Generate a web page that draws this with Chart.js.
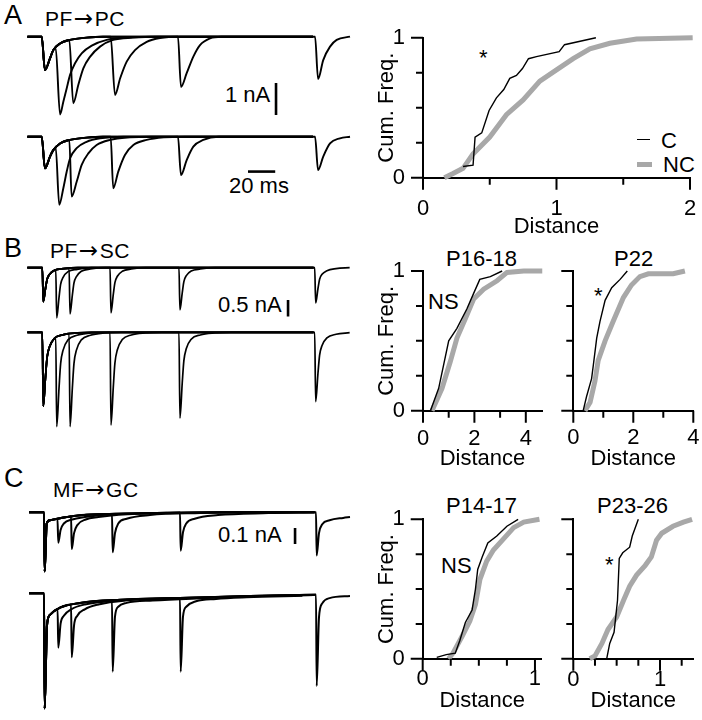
<!DOCTYPE html>
<html>
<head>
<meta charset="utf-8">
<script src="https://cdn.jsdelivr.net/npm/chart.js@4.4.1/dist/chart.umd.min.js"></script>
<style>
  body { margin: 0; background: #fff; }
  #fig { position: relative; width: 702px; height: 720px; overflow: hidden;
         font-family: 'Liberation Sans', Arial, Helvetica, sans-serif; color: #000; }
  #fig canvas { position: absolute; }
  .t { position: absolute; line-height: 1; white-space: nowrap; font-size: 22px; }
  .letter { font-size: 27px; }
  .path { font-size: 21px; letter-spacing: 0.5px; }
  .arr { font-family: 'DejaVu Sans', sans-serif; font-size: 23px; line-height: 0; margin: 0 1px; }
  .key { position: absolute; }
</style>
</head>
<body>
<div id="fig">
  <div class="t letter" style="left:4px; top:2px">A</div>
  <div class="t path" style="left:45px; top:8px">PF<span class="arr">→</span>PC</div>
  <div class="t" style="left:225px; top:84px">1 nA</div>
  <div class="t" style="left:229px; top:175px">20 ms</div>

  <div class="t letter" style="left:4px; top:235px">B</div>
  <div class="t path" style="left:50px; top:240px">PF<span class="arr">→</span>SC</div>
  <div class="t" style="left:218px; top:294px">0.5 nA</div>

  <div class="t letter" style="left:4px; top:465px">C</div>
  <div class="t path" style="left:53px; top:479px">MF<span class="arr">→</span>GC</div>
  <div class="t" style="left:218px; top:524px">0.1 nA</div>

  <div class="t" style="left:479px; top:47px">*</div>
  <div class="key" style="left:637px; top:139px; width:13px; height:1.4px; background:#000"></div>
  <div class="t" style="left:661px; top:130px">C</div>
  <div class="key" style="left:637px; top:162px; width:15px; height:5px; background:#a8a8a8"></div>
  <div class="t" style="left:663px; top:154px">NC</div>

  <div class="t" style="left:446px; top:248px">P16-18</div>
  <div class="t" style="left:614px; top:248px">P22</div>
  <div class="t" style="left:428px; top:291px">NS</div>
  <div class="t" style="left:594px; top:285px">*</div>

  <div class="t" style="left:446px; top:495px">P14-17</div>
  <div class="t" style="left:597px; top:495px">P23-26</div>
  <div class="t" style="left:441px; top:555px">NS</div>
  <div class="t" style="left:605px; top:554px">*</div>
</div>
<script>
// ---------- current traces: [time (ms after first stimulus), current (nA)] ----------
// each row: the shared first response, then one second response per stimulus interval
const intervals = [10, 20, 50, 100, 200];

const pcTopFirst = [[-10.5, 0], [0, 0], [2.4, -1.04], [6.1, -0.675], [8.5, -0.42], [13.5, -0.21], [20.8, -0.1], [33, -0.03], [45, 0]];
const pcTopSecond = [
  [[10.3, -0.36], [13.5, -2.43], [15.9, -2.03], [18.4, -1.61], [20.8, -1.2], [24.5, -0.83], [29.4, -0.52], [36.8, -0.28], [47.8, -0.1], [62.5, -0.03], [80, 0], [199.5, 0]],
  [[20.3, -0.1], [23.2, -2.08], [26.9, -1.51], [30.6, -0.99], [35.5, -0.63], [42.9, -0.31], [52.6, -0.1], [67, -0.03], [85, 0], [199.5, 0]],
  [[50.7, 0], [53.9, -1.82], [57.7, -1.3], [62.5, -0.78], [68.6, -0.42], [77.2, -0.16], [87, -0.04], [102, 0], [199.5, 0]],
  [[100.2, 0], [102.4, -1.57], [106.6, -1.14], [111.5, -0.62], [116.4, -0.26], [123.8, -0.05], [132, 0], [199.5, 0]],
  [[201, 0], [203.2, -1.32], [207, -0.73], [212, -0.31], [216.9, -0.1], [226.7, 0]]
];
const pcBotFirst = [[-10.5, 0], [0, 0], [2.4, -0.99], [6.1, -0.62], [8.5, -0.42], [13.5, -0.21], [20.8, -0.1], [33, -0.03], [45, 0]];
const pcBotSecond = [
  [[10.3, -0.34], [12.9, -2.13], [15.9, -1.61], [18.4, -1.09], [20.8, -0.68], [25.7, -0.36], [33, -0.16], [42.9, -0.05], [60, 0], [199.5, 0]],
  [[20.3, -0.1], [22, -1.87], [25.7, -1.41], [29.4, -0.88], [34.3, -0.52], [40.4, -0.26], [50.2, -0.1], [65, -0.02], [80, 0], [199.5, 0]],
  [[50.7, 0], [52.6, -1.61], [56.3, -1.09], [61.2, -0.57], [67.4, -0.26], [77.2, -0.1], [90, -0.02], [105, 0], [199.5, 0]],
  [[100.2, 0], [102.4, -1.2], [106.6, -0.73], [111.5, -0.31], [118.8, -0.1], [130, 0], [199.5, 0]],
  [[201, 0], [203.2, -1.04], [207, -0.62], [212, -0.21], [219.3, -0.05], [226.7, 0]]
];

const scTopFirst = [[-11, 0], [0, 0], [0.7, -1.03], [2.4, -0.61], [3.6, -0.34], [5.4, -0.2], [9, -0.08], [15.7, -0.03], [26, 0]];
const scTopSecond = [
  [[9.9, -0.06], [10.6, -1.52], [12.3, -0.9], [13.5, -0.5], [15.3, -0.29], [18.9, -0.12], [25.6, -0.05], [36, 0], [199.5, 0]],
  [[19.7, -0.02], [20.4, -1.4], [22.1, -0.83], [23.3, -0.46], [25.1, -0.27], [28.7, -0.11], [35.4, -0.04], [46, 0], [199.5, 0]],
  [[49.8, 0], [50.5, -1.37], [52.2, -0.81], [53.4, -0.45], [55.2, -0.26], [58.8, -0.11], [65.5, -0.04], [76, 0], [199.5, 0]],
  [[100.5, 0], [101.2, -1.28], [102.9, -0.76], [104.1, -0.42], [105.9, -0.24], [109.5, -0.1], [116.2, -0.04], [127, 0], [199.5, 0]],
  [[200.3, 0], [201, -1.07], [202.7, -0.63], [203.9, -0.35], [205.7, -0.2], [209.3, -0.09], [216, -0.03], [226, 0]]
];
const scBotFirst = [[-11, 0], [0, 0], [0.7, -2.24], [2.4, -1.32], [3.6, -0.74], [5.4, -0.43], [9, -0.18], [15.7, -0.07], [26, -0.02], [36, 0]];
const scBotSecond = [
  [[9.9, -0.15], [10.6, -2.86], [12.3, -1.69], [13.5, -0.94], [15.3, -0.54], [18.9, -0.23], [25.6, -0.09], [36, -0.02], [48, 0], [199.5, 0]],
  [[19.7, -0.05], [20.4, -2.86], [22.1, -1.69], [23.3, -0.94], [25.1, -0.54], [28.7, -0.23], [35.4, -0.09], [46, -0.02], [58, 0], [199.5, 0]],
  [[49.8, 0], [50.5, -2.81], [52.2, -1.66], [53.4, -0.93], [55.2, -0.53], [58.8, -0.22], [65.5, -0.08], [76, -0.02], [88, 0], [199.5, 0]],
  [[100.5, 0], [101.2, -2.6], [102.9, -1.53], [104.1, -0.86], [105.9, -0.49], [109.5, -0.21], [116.2, -0.08], [127, -0.02], [139, 0], [199.5, 0]],
  [[200.3, 0], [201, -2.1], [202.7, -1.24], [203.9, -0.69], [205.7, -0.4], [209.3, -0.17], [216, -0.06], [226, -0.01]]
];

const gcTopFirst = [[-11, 0], [0, 0], [0.5, -0.37], [2, -0.07], [4.4, -0.05], [10, -0.04], [16.7, -0.03], [25, -0.02], [41, -0.012], [90, -0.003], [120, 0]];
const gcTopSecond = [
  [[9.9, -0.04], [10.5, -0.19], [12.2, -0.11], [14.6, -0.07], [20.8, -0.045], [30, -0.03], [45, -0.015], [90, -0.004], [130, 0], [199, 0]],
  [[19.9, -0.025], [20.4, -0.23], [22.1, -0.13], [24.5, -0.08], [30.7, -0.045], [40, -0.03], [55, -0.015], [100, -0.004], [140, 0], [199, 0]],
  [[50, -0.01], [50.5, -0.25], [52.2, -0.13], [54.6, -0.07], [60.8, -0.04], [77.9, -0.017], [115, -0.005], [150, 0], [199, 0]],
  [[100, -0.002], [100.5, -0.24], [102.2, -0.125], [104.6, -0.07], [110.8, -0.04], [128, -0.017], [165, -0.005], [199, 0]],
  [[200, 0], [200.5, -0.27], [202.2, -0.13], [204.6, -0.075], [210, -0.05], [220, -0.035], [225, -0.03]]
];
const gcBotFirst = [[-11, 0], [0, 0], [0.5, -0.72], [2.2, -0.2], [4.4, -0.135], [11.8, -0.09], [26.5, -0.06], [55.9, -0.04], [100, -0.03], [151.5, -0.017], [188, -0.01], [199, -0.008]];
const gcBotSecond = [
  [[10, -0.1], [10.5, -0.34], [12.2, -0.19], [14.6, -0.14], [20, -0.1], [30, -0.07], [55.9, -0.045], [100, -0.03], [151.5, -0.017], [199, -0.01]],
  [[19.9, -0.07], [20.4, -0.4], [22.1, -0.2], [24.5, -0.14], [30, -0.1], [40, -0.07], [60, -0.045], [100, -0.03], [151.5, -0.017], [199, -0.01]],
  [[50, -0.045], [50.5, -0.49], [52.2, -0.146], [54.6, -0.084], [60.8, -0.06], [80, -0.045], [120, -0.03], [160, -0.017], [199, -0.01]],
  [[100, -0.03], [100.5, -0.49], [102.2, -0.146], [104.6, -0.084], [111.8, -0.05], [126.5, -0.035], [149, -0.025], [190, -0.015]],
  [[200, -0.008], [200.5, -0.58], [202.2, -0.15], [204.6, -0.063], [210, -0.03], [225, -0.017]]
];

// scale bars, in the same units as the traces
const pcBarNa = [[172.3, -1.45], [172.3, -2.45]];    // 1 nA
const pcBarMs = [[151.7, -1.09], [171.7, -1.09]];    // 20 ms
const scBarNa = [[180.7, -0.98], [180.7, -1.48]];    // 0.5 nA
const gcBarNa = [[184.6, -0.098], [184.6, -0.198]];  // 0.1 nA

// ---------- cumulative distributions: [distance, cumulative frequency] ----------
const pcC  = [[0.3, 0.08], [0.375, 0.09], [0.39, 0.29], [0.44, 0.32], [0.495, 0.48], [0.55, 0.57], [0.605, 0.63], [0.65, 0.71], [0.7, 0.73], [0.745, 0.78], [0.79, 0.85], [0.85, 0.865], [1.02, 0.9], [1.06, 0.95], [1.295, 1]];
const pcNC = [[0.16, 0], [0.225, 0.03], [0.3, 0.067], [0.375, 0.17], [0.5, 0.29], [0.625, 0.45], [0.75, 0.555], [0.875, 0.69], [1, 0.77], [1.125, 0.85], [1.25, 0.92], [1.4, 0.96], [1.6, 0.99], [2.02, 1]];

const scYoungC  = [[0.29, 0], [0.61, 0.16], [1, 0.5], [1.32, 0.59], [1.71, 0.73], [1.97, 0.84], [2.21, 0.94], [2.62, 0.96], [3.08, 1]];
const scYoungNC = [[0.35, 0], [0.74, 0.16], [1.06, 0.35], [1.32, 0.52], [1.65, 0.66], [1.97, 0.8], [2.36, 0.87], [2.88, 0.93], [3.27, 0.99], [3.92, 1], [4.64, 1]];
const scOldC  = [[0.33, 0], [0.44, 0.1], [0.61, 0.23], [0.67, 0.33], [0.78, 0.52], [0.89, 0.64], [1.06, 0.79], [1.28, 0.88], [1.56, 0.94], [1.8, 1]];
const scOldNC = [[0.39, 0], [0.56, 0.06], [0.72, 0.21], [0.83, 0.36], [1.06, 0.5], [1.33, 0.64], [1.67, 0.81], [1.94, 0.9], [2.22, 0.96], [2.5, 0.98], [3.33, 0.98], [3.72, 1]];

const gcYoungC  = [[0.125, 0.01], [0.21, 0.03], [0.29, 0.04], [0.33, 0.13], [0.38, 0.26], [0.44, 0.35], [0.47, 0.5], [0.49, 0.64], [0.53, 0.73], [0.58, 0.83], [0.66, 0.88], [0.75, 0.95], [0.85, 1]];
const gcYoungNC = [[0.23, 0], [0.27, 0.04], [0.35, 0.16], [0.42, 0.27], [0.47, 0.39], [0.51, 0.57], [0.57, 0.7], [0.63, 0.78], [0.72, 0.86], [0.81, 0.94], [0.9, 0.98], [1.04, 1]];
const gcOldC  = [[0.385, 0], [0.42, 0.11], [0.47, 0.19], [0.51, 0.42], [0.53, 0.72], [0.57, 0.76], [0.65, 0.8], [0.68, 0.88], [0.75, 1]];
const gcOldNC = [[0.19, 0], [0.25, 0.02], [0.33, 0.11], [0.4, 0.21], [0.5, 0.3], [0.58, 0.42], [0.65, 0.52], [0.73, 0.6], [0.83, 0.67], [0.9, 0.73], [0.96, 0.85], [1.02, 0.9], [1.15, 0.95], [1.27, 0.98], [1.37, 1]];

// axis ticks
const freqMajor = [0, 1];
const freqMinor = [0.25, 0.5, 0.75];
const pcDistMajor = [0, 1, 2], pcDistMinor = [0.5, 1.5];
const scDistMajor = [0, 2, 4], scDistMinor = [1, 3];
const gcDistMajor = [0, 1], gcYoungMinor = [0.25, 0.5, 0.75], gcOldMinor = [0.25, 0.5, 0.75, 1.25];

// ---------- drawing ----------
Chart.defaults.font.family = "'Liberation Sans', Arial, Helvetica, sans-serif";
Chart.defaults.font.size = 22;
Chart.defaults.color = '#000';

const fig = document.getElementById('fig');
function addCanvas(left, top, width, height) {
  const c = document.createElement('canvas');
  c.width = width;
  c.height = height;
  c.style.left = left + 'px';
  c.style.top = top + 'px';
  fig.appendChild(c);
  return c;
}

const xy = pts => pts.map(p => ({x: p[0], y: p[1]}));
// a sweep = shared first response up to the second stimulus, then the second response
const sweepsOf = (first, seconds) => seconds.map(sec => first.filter(p => p[0] < sec[0][0]).concat(sec));

const MS_PX = 1.36;   // horizontal pixels per ms
const TRACE_W = 352;

function traceChart(box, first, seconds, bars, lineWidth) {
  const canvas = addCanvas(0, box.top, TRACE_W, box.height);
  const datasets = sweepsOf(first, seconds).map(s => ({
    data: xy(s), showLine: true, borderColor: '#000', borderWidth: lineWidth,
    pointRadius: 0, cubicInterpolationMode: 'monotone', clip: false
  }));
  bars.forEach(b => datasets.push({
    data: xy(b), showLine: true, borderColor: '#000', borderWidth: 2.6,
    pointRadius: 0, borderCapStyle: 'butt'
  }));
  return new Chart(canvas, {
    type: 'scatter',
    data: {datasets},
    options: {
      responsive: false, animation: false, devicePixelRatio: 1, events: [],
      layout: {padding: 0, autoPadding: false},
      plugins: {legend: {display: false}, tooltip: {enabled: false}},
      scales: {
        x: {type: 'linear', display: false, min: -box.zero / MS_PX, max: (TRACE_W - box.zero) / MS_PX},
        y: {type: 'linear', display: false,
            min: -(box.top + box.height - box.base) / box.unit,
            max: (box.base - box.top) / box.unit}
      }
    }
  });
}

// outward ticks, long for labelled values and short for the others
function tickMarks(xMajor, xMinor) {
  return {
    id: 'tickMarks',
    afterDraw(chart) {
      const {ctx, chartArea: a, scales: {x, y}} = chart;
      ctx.save();
      ctx.strokeStyle = '#000';
      ctx.lineWidth = 2;
      ctx.beginPath();
      const xt = (v, len) => { const p = x.getPixelForValue(v); ctx.moveTo(p, a.bottom); ctx.lineTo(p, a.bottom + len); };
      const yt = (v, len) => { const p = y.getPixelForValue(v); ctx.moveTo(a.left, p); ctx.lineTo(a.left - len, p); };
      xMajor.forEach(v => xt(v, 12));
      xMinor.forEach(v => xt(v, 7));
      freqMajor.forEach(v => yt(v, 12));
      freqMinor.forEach(v => yt(v, 7));
      ctx.stroke();
      ctx.restore();
    }
  };
}

function cdfChart(box, xMax, cCurve, ncCurve, xMajor, xMinor, showY, labelPad) {
  const canvas = addCanvas(box.cl, box.ct, box.cr - box.cl, box.cb - box.ct);
  return new Chart(canvas, {
    type: 'scatter',
    data: {datasets: [
      {label: 'C', data: xy(cCurve), showLine: true, borderColor: '#000', borderWidth: 1.4, pointRadius: 0, clip: false},
      {label: 'NC', data: xy(ncCurve), showLine: true, borderColor: '#a8a8a8', borderWidth: 5, pointRadius: 0, clip: false}
    ]},
    options: {
      responsive: false, animation: false, devicePixelRatio: 1, events: [],
      layout: {autoPadding: false, padding: {top: box.T - box.ct, right: box.cr - box.R, bottom: 0, left: 0}},
      plugins: {legend: {display: false}, tooltip: {enabled: false}},
      scales: {
        x: {
          type: 'linear', min: 0, max: xMax,
          afterFit: s => { s.height = box.cb - box.B; s.paddingLeft = 0; s.paddingRight = 0; },
          afterBuildTicks: s => { s.ticks = xMajor.map(v => ({value: v})); },
          ticks: {padding: labelPad, maxRotation: 0, autoSkip: false},
          grid: {drawOnChartArea: false, drawTicks: false},
          border: {color: '#000', width: 2},
          title: {display: true, text: 'Distance', padding: {top: 0, bottom: 4}}
        },
        y: {
          type: 'linear', min: 0, max: 1,
          afterFit: s => { s.width = box.L - box.cl; s.paddingTop = 0; s.paddingBottom = 0; },
          afterBuildTicks: s => { s.ticks = freqMajor.map(v => ({value: v})); },
          ticks: {display: showY, padding: 18},
          grid: {drawOnChartArea: false, drawTicks: false},
          border: {color: '#000', width: 2},
          title: {display: showY, text: 'Cum. Freq.', padding: {top: 4, bottom: 0}}
        }
      }
    },
    plugins: [tickMarks(xMajor, xMinor)]
  });
}

// A  PF -> PC
traceChart({top: 20, height: 110, base: 36.7, unit: 32, zero: 41.7}, pcTopFirst, pcTopSecond, [pcBarNa], 1.9);
traceChart({top: 120, height: 100, base: 136.7, unit: 32, zero: 41.7}, pcBotFirst, pcBotSecond, [pcBarMs], 1.9);
cdfChart({cl: 370, ct: 16, cr: 700, cb: 244, L: 423, T: 37.7, R: 690, B: 177.7}, 2, pcC, pcNC, pcDistMajor, pcDistMinor, true, 18);

// B  PF -> SC
traceChart({top: 255, height: 75, base: 267.7, unit: 33, zero: 42.3}, scTopFirst, scTopSecond, [scBarNa], 1.7);
traceChart({top: 322, height: 108, base: 332.3, unit: 33, zero: 42.3}, scBotFirst, scBotSecond, [], 1.7);
cdfChart({cl: 370, ct: 250, cr: 552, cb: 476, L: 423, T: 271, R: 542, B: 410.7}, 4.63, scYoungC, scYoungNC, scDistMajor, scDistMinor, true, 15);
cdfChart({cl: 553, ct: 250, cr: 702, cb: 476, L: 573.3, T: 271, R: 693.3, B: 410.7}, 4, scOldC, scOldNC, scDistMajor, scDistMinor, false, 14);

// C  MF -> GC
traceChart({top: 500, height: 80, base: 512.3, unit: 160, zero: 44}, gcTopFirst, gcTopSecond, [gcBarNa], 2);
traceChart({top: 583, height: 135, base: 593.3, unit: 160, zero: 44}, gcBotFirst, gcBotSecond, [], 2);
cdfChart({cl: 370, ct: 498, cr: 552, cb: 718, L: 422.7, T: 519.3, R: 541.7, B: 658.8}, 1.06, gcYoungC, gcYoungNC, gcDistMajor, gcYoungMinor, true, 7);
cdfChart({cl: 553, ct: 498, cr: 702, cb: 718, L: 573.3, T: 519.3, R: 693.3, B: 658.8}, 1.384, gcOldC, gcOldNC, gcDistMajor, gcOldMinor, false, 8);
</script>
</body>
</html>
